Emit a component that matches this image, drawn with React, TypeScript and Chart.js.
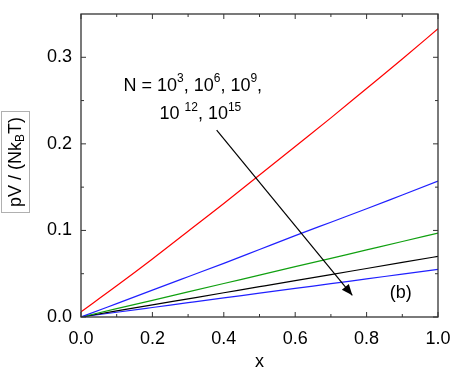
import React, { useEffect, useRef } from "react";
import { Chart, registerables } from "chart.js";

Chart.register(...registerables);

const xValues = [0, 0.1, 0.2, 0.3, 0.4, 0.5, 0.6, 0.7, 0.8, 0.9, 1.0];
const redN3 = [0.006, 0.036, 0.067, 0.099, 0.131, 0.164, 0.197, 0.23, 0.264, 0.298, 0.333];
const blueN6 = [0, 0.0155, 0.031, 0.0465, 0.062, 0.078, 0.094, 0.1095, 0.125, 0.141, 0.157];
const greenN9 = [0, 0.0096, 0.0193, 0.029, 0.0387, 0.0484, 0.0581, 0.0678, 0.0775, 0.0872, 0.097];
const blackN12 = [0, 0.007, 0.014, 0.021, 0.028, 0.035, 0.042, 0.049, 0.056, 0.063, 0.07];
const blueN15 = [0, 0.0055, 0.011, 0.0165, 0.022, 0.0275, 0.033, 0.0385, 0.044, 0.0495, 0.055];

const xTicks = [0, 0.2, 0.4, 0.6, 0.8, 1.0];
const xMinorTicks = [0.1, 0.3, 0.5, 0.7, 0.9];
const yTicks = [0, 0.1, 0.2, 0.3];
const yMinorTicks = [0.05, 0.15, 0.25];

const arrowStart = [0.38, 0.216];
const arrowEnd = [0.76, 0.025];
const labelLine1Pos = [0.119, 0.267];
const labelLine2Pos = [0.22, 0.234];
const panelLabelPos = [0.865, 0.028];

const FONT = "'Liberation Sans', Arial, sans-serif";

type Seg = { t: string; s?: "sup" | "sub" };

function drawRich(ctx: CanvasRenderingContext2D, segs: Seg[], x: number, y: number) {
  let cx = x;
  ctx.textBaseline = "middle";
  ctx.textAlign = "left";
  for (const seg of segs) {
    if (seg.s === "sup") {
      ctx.font = `12px ${FONT}`;
      ctx.fillText(seg.t, cx, y - 7);
    } else if (seg.s === "sub") {
      ctx.font = `12px ${FONT}`;
      ctx.fillText(seg.t, cx, y + 5);
    } else {
      ctx.font = `18px ${FONT}`;
      ctx.fillText(seg.t, cx, y);
    }
    cx += ctx.measureText(seg.t).width;
  }
  return cx - x;
}

function measureRich(ctx: CanvasRenderingContext2D, segs: Seg[]) {
  let w = 0;
  for (const seg of segs) {
    ctx.font = seg.s ? `12px ${FONT}` : `18px ${FONT}`;
    w += ctx.measureText(seg.t).width;
  }
  return w;
}

const decorPlugin = {
  id: "decor",
  afterDraw(chart: any) {
    const ctx: CanvasRenderingContext2D = chart.ctx;
    const { left, right, top, bottom } = chart.chartArea;
    const xs = chart.scales.x;
    const ys = chart.scales.y;
    ctx.save();
    // frame
    ctx.strokeStyle = "#333";
    ctx.lineWidth = 1.3;
    ctx.strokeRect(left, top, right - left, bottom - top);
    // ticks
    ctx.lineWidth = 1;
    ctx.beginPath();
    const tick = (vals: number[], len: number) => {
      for (const v of vals) {
        const px = xs.getPixelForValue(v);
        ctx.moveTo(px, bottom);
        ctx.lineTo(px, bottom - len);
        ctx.moveTo(px, top);
        ctx.lineTo(px, top + len);
      }
    };
    const ytick = (vals: number[], len: number) => {
      for (const v of vals) {
        const py = ys.getPixelForValue(v);
        ctx.moveTo(left, py);
        ctx.lineTo(left + len, py);
        ctx.moveTo(right, py);
        ctx.lineTo(right - len, py);
      }
    };
    tick(xTicks, 5);
    tick(xMinorTicks, 3);
    ytick(yTicks, 5);
    ytick(yMinorTicks, 3);
    ctx.stroke();

    // arrow
    const ax0 = xs.getPixelForValue(arrowStart[0]);
    const ay0 = ys.getPixelForValue(arrowStart[1]);
    const ax1 = xs.getPixelForValue(arrowEnd[0]);
    const ay1 = ys.getPixelForValue(arrowEnd[1]);
    ctx.strokeStyle = "#000";
    ctx.fillStyle = "#000";
    ctx.lineWidth = 1.2;
    ctx.beginPath();
    ctx.moveTo(ax0, ay0);
    ctx.lineTo(ax1, ay1);
    ctx.stroke();
    const ang = Math.atan2(ay1 - ay0, ax1 - ax0);
    const hl = 11;
    const hw = 4.5;
    ctx.beginPath();
    ctx.moveTo(ax1, ay1);
    ctx.lineTo(ax1 - hl * Math.cos(ang) + hw * Math.sin(ang), ay1 - hl * Math.sin(ang) - hw * Math.cos(ang));
    ctx.lineTo(ax1 - hl * Math.cos(ang) - hw * Math.sin(ang), ay1 - hl * Math.sin(ang) + hw * Math.cos(ang));
    ctx.closePath();
    ctx.fill();

    // annotations
    ctx.fillStyle = "#000";
    drawRich(
      ctx,
      [{ t: "N = 10" }, { t: "3", s: "sup" }, { t: ", 10" }, { t: "6", s: "sup" }, { t: ", 10" }, { t: "9", s: "sup" }, { t: "," }],
      xs.getPixelForValue(labelLine1Pos[0]),
      ys.getPixelForValue(labelLine1Pos[1])
    );
    drawRich(
      ctx,
      [{ t: "10 " }, { t: "12", s: "sup" }, { t: ", 10" }, { t: "15", s: "sup" }],
      xs.getPixelForValue(labelLine2Pos[0]),
      ys.getPixelForValue(labelLine2Pos[1])
    );
    drawRich(ctx, [{ t: "(b)" }], xs.getPixelForValue(panelLabelPos[0]), ys.getPixelForValue(panelLabelPos[1]));

    // x title
    ctx.font = `18px ${FONT}`;
    ctx.textAlign = "center";
    ctx.textBaseline = "middle";
    ctx.fillText("x", (left + right) / 2, 362);

    // y title (rotated)
    const ySegs: Seg[] = [{ t: "pV / (Nk" }, { t: "B", s: "sub" }, { t: "T)" }];
    const w = measureRich(ctx, ySegs);
    ctx.save();
    ctx.translate(16, 162);
    ctx.rotate(-Math.PI / 2);
    drawRich(ctx, ySegs, -w / 2, 0);
    ctx.restore();
    ctx.strokeStyle = "#b0b0b0";
    ctx.lineWidth = 1;
    ctx.strokeRect(1.5, 111.5, 28, 101);

    ctx.restore();
  },
};

export default function App() {
  const ref = useRef<HTMLCanvasElement | null>(null);
  useEffect(() => {
    if (!ref.current) return;
    const mk = (data: number[], color: string) => ({
      data: xValues.map((x, i) => ({ x, y: data[i] })),
      borderColor: color,
      borderWidth: 1.2,
      pointRadius: 0,
      fill: false,
      cubicInterpolationMode: "monotone" as const,
    });
    const chart = new Chart(ref.current, {
      type: "line",
      data: {
        datasets: [
          mk(redN3, "#ff0000"),
          mk(blueN6, "#2020ff"),
          mk(greenN9, "#10a010"),
          mk(blackN12, "#000000"),
          mk(blueN15, "#2020ff"),
        ],
      },
      options: {
        animation: false,
        responsive: false,
        layout: { padding: { left: 0, top: 14, right: 19, bottom: 0 } },
        plugins: { legend: { display: false }, tooltip: { enabled: false } },
        scales: {
          x: {
            type: "linear",
            min: 0,
            max: 1,
            grid: { display: false, drawTicks: false },
            border: { display: false },
            afterBuildTicks: (s: any) => {
              s.ticks = xTicks.map((v) => ({ value: v }));
            },
            afterFit: (s: any) => {
              s.height = 59;
              s.paddingLeft = 0;
              s.paddingRight = 0;
            },
            ticks: {
              padding: 11,
              color: "#000",
              font: { family: FONT, size: 18 },
              callback: (v: any) => Number(v).toFixed(1),
              maxRotation: 0,
            },
          },
          y: {
            type: "linear",
            min: 0,
            max: 0.35,
            grid: { display: false, drawTicks: false },
            border: { display: false },
            afterBuildTicks: (s: any) => {
              s.ticks = yTicks.map((v) => ({ value: v }));
            },
            afterFit: (s: any) => {
              s.width = 81;
              s.paddingTop = 0;
              s.paddingBottom = 0;
            },
            ticks: {
              padding: 9,
              color: "#000",
              font: { family: FONT, size: 18 },
              callback: (v: any) => Number(v).toFixed(1),
            },
          },
        },
      },
      plugins: [decorPlugin],
    });
    return () => chart.destroy();
  }, []);
  return (
    <div style={{ position: "fixed", left: 0, top: 0, width: 457, height: 376, background: "#fff" }}>
      <canvas ref={ref} width={457} height={376} style={{ display: "block" }} />
    </div>
  );
}
